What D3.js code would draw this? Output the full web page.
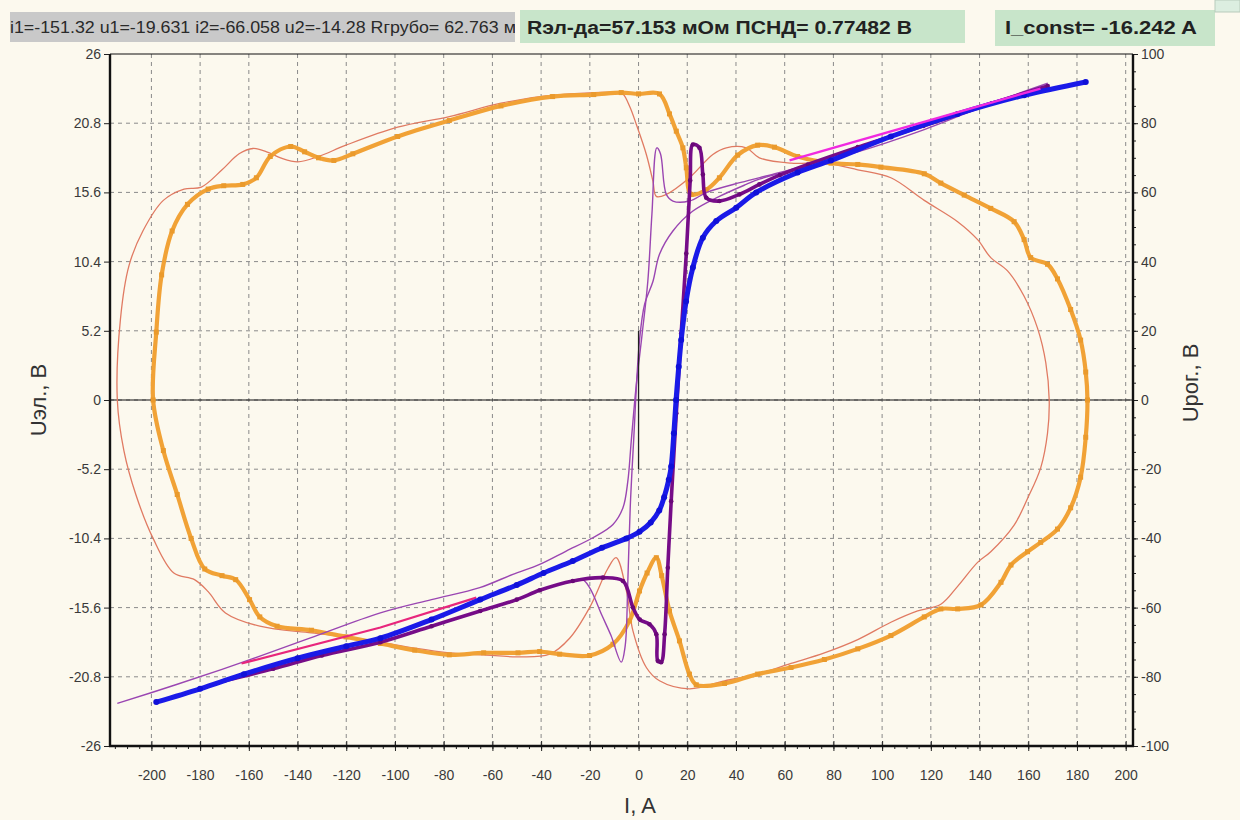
<!DOCTYPE html>
<html><head><meta charset="utf-8">
<script src="https://cdn.jsdelivr.net/npm/d3@7"></script>
<style>
html,body{margin:0;padding:0;background:#fcf9ee;}
svg{display:block;}
text{font-family:"Liberation Sans",Arial,sans-serif;}
</style></head><body>
<svg id="chart" width="1240" height="820"></svg>
<script>
// ---- data: current I (A) vs voltage U (V) ----
const currentTicks = d3.range(-200, 201, 20);
const uElTicks = [-26, -20.8, -15.6, -10.4, -5.2, 0, 5.2, 10.4, 15.6, 20.8, 26];
const uRogTicks = d3.range(-100, 101, 20);

const headerGray = "i1=-151.32 u1=-19.631  i2=-66.058 u2=-14.28 Rгрубо= 62.763 мОм";
const headerRes = "Rэл-да=57.153 мОм  ПСНД= 0.77482 В";
const headerConst = "I_const= -16.242 A";

// outer loop (thick orange)
const loopOrange = [[-199.3,0],[-198,5.1],[-195.8,9.4],[-191.5,12.7],[-185.2,14.7],[-176.7,15.85],[-170.3,16.1],[-162.5,16.2],[-156.9,16.7],[-151.2,18.3],[-142.8,19.05],[-137.1,18.65],[-131.4,18.2],[-125.1,18.0],[-117.3,18.5],[-98.9,19.8],[-77.7,21.0],[-56.5,22.1],[-35.3,22.8],[-18.4,22.95],[-7.1,23.1],[0,23.0],[8.6,23.0],[12.7,21.5],[15.5,20.2],[18.2,18.95],[19.6,17.45],[21.6,15.45],[27.8,15.8],[33.2,16.7],[40.7,18.4],[48.9,19.15],[55.8,19.0],[65.3,18.3],[79.0,17.8],[90,17.7],[99.5,17.5],[117.3,17.0],[124.1,16.3],[133.7,15.4],[144.6,14.4],[154.2,13.4],[158.3,12.05],[161,10.7],[167.9,10.2],[172,9.1],[177.4,6.8],[181.5,4.5],[183.6,2.1],[184.3,0],[183.6,-2.8],[181.5,-5.8],[177.4,-8.1],[172,-9.7],[165.1,-10.7],[159.7,-11.4],[152.9,-12.4],[148.8,-13.7],[140.6,-15.4],[131,-15.7],[124.1,-15.7],[117.3,-16.3],[103.6,-17.7],[90,-18.7],[76.3,-19.5],[62.6,-20.1],[48.9,-20.6],[35.3,-21.3],[23.7,-21.4],[20.9,-20.6],[16.8,-18.1],[12.7,-15.85],[9.5,-13.2],[7.3,-11.85],[3.5,-13.0],[0.4,-14.35],[-3.7,-16.6],[-10.5,-18.35],[-20.1,-19.2],[-32.4,-19.1],[-40.6,-18.9],[-49.5,-19.0],[-63.6,-19.0],[-77.7,-19.15],[-91.9,-18.8],[-106,-18.3],[-120.1,-17.8],[-134.3,-17.3],[-148.4,-17.0],[-155.5,-16.3],[-159.7,-15.0],[-165.4,-13.5],[-171,-13.2],[-178.1,-12.7],[-183.7,-10.4],[-189.4,-7.1],[-195.1,-3.8]];

// outer loop (thin salmon)
const loopSalmon = [[-214,0],[-212.7,6.1],[-209.2,10.1],[-203.5,12.7],[-195.1,15.0],[-186.6,15.85],[-179.5,16.0],[-171,17.3],[-164,18.5],[-158.3,18.9],[-152.7,18.65],[-147,18.2],[-139.9,17.9],[-131.4,18.3],[-120.1,19.15],[-98.9,20.5],[-77.7,21.3],[-56.5,22.3],[-35.3,22.9],[-8.5,23.1],[-6.4,23.0],[-3.5,22.0],[-0.9,20.7],[3.2,18.45],[5.9,16.45],[7.3,15.3],[11.4,15.45],[20.9,16.7],[30.5,18.45],[36,18.95],[44.2,18.95],[49.6,18.2],[62.6,17.8],[76.3,17.8],[90,17.3],[103.6,16.7],[117.3,15.0],[131,13.4],[139.2,12.05],[144.6,10.7],[151.5,9.7],[158.3,7.8],[163.8,5.4],[167.2,2.8],[168.6,0],[167.9,-2.5],[165.1,-5.1],[159.7,-7.4],[154.2,-9.4],[144.6,-11.4],[139.2,-12.2],[131,-14.0],[124.1,-15.35],[114.6,-15.85],[103.6,-16.7],[90,-18.0],[76.3,-19.0],[62.6,-19.8],[48.9,-20.6],[35.3,-21.1],[20.9,-21.7],[8.6,-21.1],[3.2,-20.1],[-2.3,-17.35],[-5,-14.35],[-9.2,-11.85],[-12.7,-12.7],[-20.1,-15.6],[-28.3,-17.9],[-36.5,-19.1],[-49.5,-19.3],[-63.6,-19.15],[-77.7,-19.0],[-91.9,-18.65],[-106,-18.2],[-120.1,-17.8],[-134.3,-17.5],[-155.5,-17.0],[-169.6,-16.0],[-176.7,-14.4],[-182.3,-13.5],[-190.8,-13.0],[-199.3,-10.4],[-206.4,-7.1],[-211.3,-3.8]];

// thin violet branches
const violetMain = [[-214,-22.8],[-190,-21.4],[-162.5,-19.7],[-135,-17.9],[-106,-16.0],[-85,-15.0],[-65.2,-14.1],[-51.6,-13.1],[-40.6,-12.35],[-29.7,-11.35],[-18.8,-10.35],[-10.5,-9.35],[-6.4,-8.1],[-4.4,-6.1],[-3,-3.1],[-1,1],[1.5,5],[3.8,8.9],[5.5,14],[7.5,18.95],[9,18.5],[11.4,15.45],[14.1,14.95],[20.9,14.95],[28,15.6],[42,16.35],[56,17.0],[70,17.7],[90,18.65],[117,20.3],[145,22.3],[168,23.8]];
const violetSpike = [[-40.6,-14.3],[-30,-13.7],[-23,-13.5],[-20.1,-14.1],[-15,-16.2],[-11.3,-17.7],[-7.1,-19.7],[-5.5,-18.5],[-4.4,-13.6],[-3.4,-8],[-2,-3],[0.4,4.5],[2.5,7.2],[5.9,8.9],[8.6,10.95],[14.1,12.7],[22.3,14.2],[33.2,15.3],[44.2,16.2],[49.6,16.6],[60,17.1]];

// thick dark purple
const purpleThick = [[-170,-21.1],[-150,-20.2],[-130,-19.2],[-106,-18.2],[-85,-17.0],[-65,-15.85],[-50,-15.0],[-40.6,-14.3],[-27,-13.6],[-14.6,-13.35],[-6.4,-13.6],[-2.3,-15.6],[0.5,-16.5],[4.5,-16.85],[7.3,-17.6],[7.9,-19.6],[9.3,-19.7],[10.7,-17.6],[12,-12.6],[13.4,-7.6],[15.5,-1],[17.5,5],[19.6,11],[21.2,16.5],[22.3,19.2],[25,18.95],[26.4,16.95],[27.8,15.2],[33.2,14.95],[41.4,15.45],[49.6,16.2],[58,16.9],[69.5,17.7],[90,19.0],[117,20.6],[145,22.3],[168,23.6]];

// thick blue
const blueThick = [[-198,-22.7],[-180,-21.7],[-162,-20.6],[-140,-19.4],[-120,-18.5],[-106,-17.9],[-85,-16.5],[-65,-15.0],[-50,-13.9],[-39,-13.0],[-27,-12.1],[-15,-11.1],[-5,-10.4],[0.4,-9.9],[5,-9.2],[8.5,-8.3],[10.5,-7.3],[12.4,-6.0],[13.4,-5.0],[14.5,-2.5],[15.4,0],[16.5,2.5],[17.5,4.5],[19.5,7.4],[22.3,9.95],[26.4,12.2],[31.9,13.45],[40.1,14.45],[48.3,15.6],[65.3,17.1],[79,18.0],[103.6,19.8],[131,21.5],[158.3,22.9],[183.6,23.9]];

// straight fit segments
const fitLow = [[-163,-19.8],[-106,-17.1],[-66.6,-14.85]];
const fitHigh = [[62,18.0],[165,23.4]];

// cursor marker at I = 0
const cursorLine = [[0,-5.2],[0,5.2]];

// ---- layout ----
const svg = d3.select("#chart");
const L = 110, R = 1133, T = 54, B = 746;
const x = d3.scaleLinear().domain([-217, 203]).range([L, R]);
const yL = d3.scaleLinear().domain([-26, 26]).range([B, T]);
const yR = d3.scaleLinear().domain([-100, 100]).range([B, T]);

svg.append("rect").attr("width",1240).attr("height",820).attr("fill","#fcf9ee");

svg.append("clipPath").attr("id","plotClip").append("rect")
  .attr("x",L).attr("y",T).attr("width",R-L).attr("height",B-T);

// grid
const grid = svg.append("g").attr("stroke","#8a8a8a").attr("stroke-width",1).attr("stroke-dasharray","4,4");
grid.selectAll("line.v").data(currentTicks).join("line")
  .attr("x1",d=>x(d)).attr("x2",d=>x(d)).attr("y1",T).attr("y2",B);
grid.selectAll("line.h").data(uElTicks.filter(d=>Math.abs(d)<26)).join("line")
  .attr("class","h").attr("x1",L).attr("x2",R).attr("y1",d=>yL(d)).attr("y2",d=>yL(d));

// zero line
svg.append("line").attr("x1",L).attr("x2",R).attr("y1",yL(0)).attr("y2",yL(0))
  .attr("stroke","#111").attr("stroke-width",1.2);

// curves
const plot = svg.append("g").attr("clip-path","url(#plotClip)");
const line = d3.line().x(d=>x(d[0])).y(d=>yL(d[1])).curve(d3.curveCatmullRom.alpha(0.5));
const closed = d3.line().x(d=>x(d[0])).y(d=>yL(d[1])).curve(d3.curveCatmullRomClosed.alpha(0.5));
const straight = d3.line().x(d=>x(d[0])).y(d=>yL(d[1]));

plot.append("path").attr("d",closed(loopSalmon)).attr("fill","none").attr("stroke","#e07a62").attr("stroke-width",1.3);
plot.append("path").attr("d",closed(loopOrange)).attr("fill","none").attr("stroke","#f1a236").attr("stroke-width",4.2);
plot.selectAll("rect.om").data(loopOrange).join("rect").attr("class","om")
  .attr("x",d=>x(d[0])-2.5).attr("y",d=>yL(d[1])-2.5).attr("width",5).attr("height",5).attr("fill","#ea9a2c");
plot.append("path").attr("d",line(violetMain)).attr("fill","none").attr("stroke","#9a46b2").attr("stroke-width",1.4);
plot.append("path").attr("d",line(violetSpike)).attr("fill","none").attr("stroke","#9a46b2").attr("stroke-width",1.4);
plot.append("path").attr("d",straight(cursorLine)).attr("stroke","#222").attr("stroke-width",1.3);
plot.append("path").attr("d",line(purpleThick)).attr("fill","none").attr("stroke","#760c88").attr("stroke-width",3.6);
plot.selectAll("circle.pm").data(purpleThick).join("circle").attr("class","pm")
  .attr("cx",d=>x(d[0])).attr("cy",d=>yL(d[1])).attr("r",2.3).attr("fill","#6a0878");
plot.append("path").attr("d",straight(fitLow)).attr("fill","none").attr("stroke","#e8267c").attr("stroke-width",2.2);
plot.append("path").attr("d",line(blueThick)).attr("fill","none").attr("stroke","#1a1ae8").attr("stroke-width",5);
plot.selectAll("circle.bm").data(blueThick).join("circle").attr("class","bm")
  .attr("cx",d=>x(d[0])).attr("cy",d=>yL(d[1])).attr("r",3).attr("fill","#1010d8");
plot.append("path").attr("d",straight(fitHigh)).attr("fill","none").attr("stroke","#f02ae0").attr("stroke-width",2.4);

// axes
const fmt = d => String(d);
const axStyle = g => {
  g.select(".domain").remove();
  g.selectAll(".tick line").attr("stroke","#222");
  g.selectAll("text").attr("fill","#3a3a3a").attr("font-size",14).attr("font-family","'Liberation Sans',Arial,sans-serif");
};
svg.append("g").attr("transform",`translate(${L},0)`)
  .call(d3.axisLeft(yL).tickValues(uElTicks).tickFormat(fmt).tickSize(6).tickPadding(3)).call(axStyle);
svg.append("g").attr("transform",`translate(${R},0)`)
  .call(d3.axisRight(yR).tickValues(uRogTicks).tickFormat(fmt).tickSize(5).tickPadding(3)).call(axStyle);
svg.append("g").attr("transform",`translate(${R},0)`)
  .call(d3.axisRight(yR).tickValues(d3.range(-100,101,5)).tickFormat("").tickSize(3)).call(axStyle);
svg.append("g").attr("transform",`translate(0,${B})`)
  .call(d3.axisBottom(x).tickValues(currentTicks).tickFormat(fmt).tickSize(5).tickPadding(19)).call(axStyle);
svg.append("g").attr("transform",`translate(0,${B})`)
  .call(d3.axisBottom(x).tickValues(d3.range(-215,201,5)).tickFormat("").tickSize(3)).call(axStyle);
svg.append("g").attr("transform",`translate(0,${B})`)
  .call(d3.axisBottom(x).tickValues(currentTicks).tickFormat("").tickSize(-5)).call(axStyle);

// frame
svg.append("line").attr("x1",L).attr("x2",R).attr("y1",T).attr("y2",T).attr("stroke","#111").attr("stroke-width",1.2);
svg.append("line").attr("x1",L).attr("x2",L).attr("y1",T).attr("y2",B+1).attr("stroke","#111").attr("stroke-width",2.4);
svg.append("line").attr("x1",R).attr("x2",R).attr("y1",T).attr("y2",B+1).attr("stroke","#111").attr("stroke-width",2.4);
svg.append("line").attr("x1",L-1).attr("x2",R+1).attr("y1",B).attr("y2",B).attr("stroke","#111").attr("stroke-width",2.4);

// axis titles
svg.append("text").attr("transform","translate(46,400) rotate(-90)").attr("text-anchor","middle")
  .attr("font-size",22).attr("fill","#333").text("Uэл., В");
svg.append("text").attr("transform","translate(1198,383) rotate(-90)").attr("text-anchor","middle")
  .attr("font-size",22).attr("fill","#333").text("Uрог., В");
svg.append("text").attr("x",640).attr("y",813).attr("text-anchor","middle")
  .attr("font-size",22).attr("fill","#333").text("I, A");

// header panels
svg.append("clipPath").attr("id","grayClip").append("rect").attr("x",10).attr("y",12).attr("width",505).attr("height",30);
svg.append("rect").attr("x",10).attr("y",12).attr("width",505).attr("height",30).attr("fill","#c9c9c9");
svg.append("text").attr("clip-path","url(#grayClip)").attr("x",10).attr("y",33)
  .attr("font-size",16).attr("fill","#2a2a2a")
  .attr("textLength",532).attr("lengthAdjust","spacingAndGlyphs").text(headerGray);
svg.append("rect").attr("x",520).attr("y",10).attr("width",445).attr("height",33).attr("fill","#c8e5ca");
svg.append("text").attr("x",527).attr("y",34).attr("font-size",18).attr("font-weight","bold").attr("fill","#222")
  .attr("textLength",385).attr("lengthAdjust","spacingAndGlyphs").text(headerRes);
svg.append("rect").attr("x",995).attr("y",10).attr("width",220).attr("height",36).attr("fill","#c8e5ca");
svg.append("text").attr("x",1005).attr("y",34).attr("font-size",18).attr("font-weight","bold").attr("fill","#222")
  .attr("textLength",192).attr("lengthAdjust","spacingAndGlyphs").text(headerConst);
svg.append("rect").attr("x",1215).attr("y",0).attr("width",25).attr("height",12).attr("fill","#dceee0").attr("stroke","#b8cbbb").attr("stroke-width",1);
</script>
</body></html>
